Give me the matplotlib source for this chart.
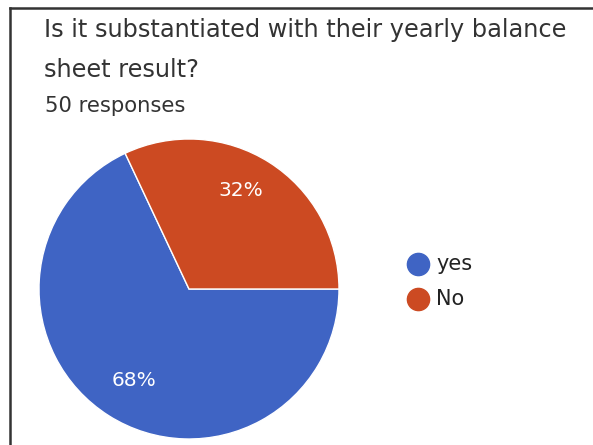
import matplotlib.pyplot as plt
from matplotlib.lines import Line2D

plt.rcParams['font.family'] = ['DejaVu Sans']

labels = ['yes', 'No']
shares = [68, 32]
colors = ['#3f64c4', '#cc4a22']

W, H = 593, 445
fig = plt.figure(figsize=(W / 100, H / 100), dpi=100)

# pie axes: center (189, 289), radius 150 px
ax = fig.add_axes([(189 - 150) / W, (H - 289 - 150) / H, 300 / W, 300 / H])
wedges, texts = ax.pie(shares, colors=colors, startangle=115.2, counterclock=True,
                       radius=1.0, wedgeprops=dict(edgecolor='white', linewidth=1))
ax.set_xlim(-1, 1)
ax.set_ylim(-1, 1)
ax.set_aspect('equal')
ax.axis('off')

ax.text(-0.367, -0.613, '68%', color='white', fontsize=14.5, ha='center', va='center')
ax.text(0.347, 0.66, '32%', color='white', fontsize=14.5, ha='center', va='center')

# title text
fig.text(44 / W, 1 - 30 / H, 'Is it substantiated with their yearly balance',
         fontsize=17.3, color='#333333', ha='left', va='center')
fig.text(44 / W, 1 - 70 / H, 'sheet result?', fontsize=17.3, color='#333333',
         ha='left', va='center')
fig.text(45 / W, 1 - 106 / H, '50 responses', fontsize=15.2, color='#333333',
         ha='left', va='center')

# legend
for lab, col, y in zip(labels, colors, [264, 299]):
    fig.add_artist(Line2D([418 / W], [1 - y / H], marker='o', markersize=16,
                          color=col, linestyle='none'))
    fig.text(436 / W, 1 - y / H, lab, fontsize=15, color='#222222',
             ha='left', va='center')

# frame lines (left and top)
fig.add_artist(Line2D([10 / W, 10 / W], [0, 1 - 8 / H], color='#333333', linewidth=1.8))
fig.add_artist(Line2D([10 / W, 1], [1 - 8 / H, 1 - 8 / H], color='#333333', linewidth=1.8))

fig.savefig('out.png', dpi=100)
